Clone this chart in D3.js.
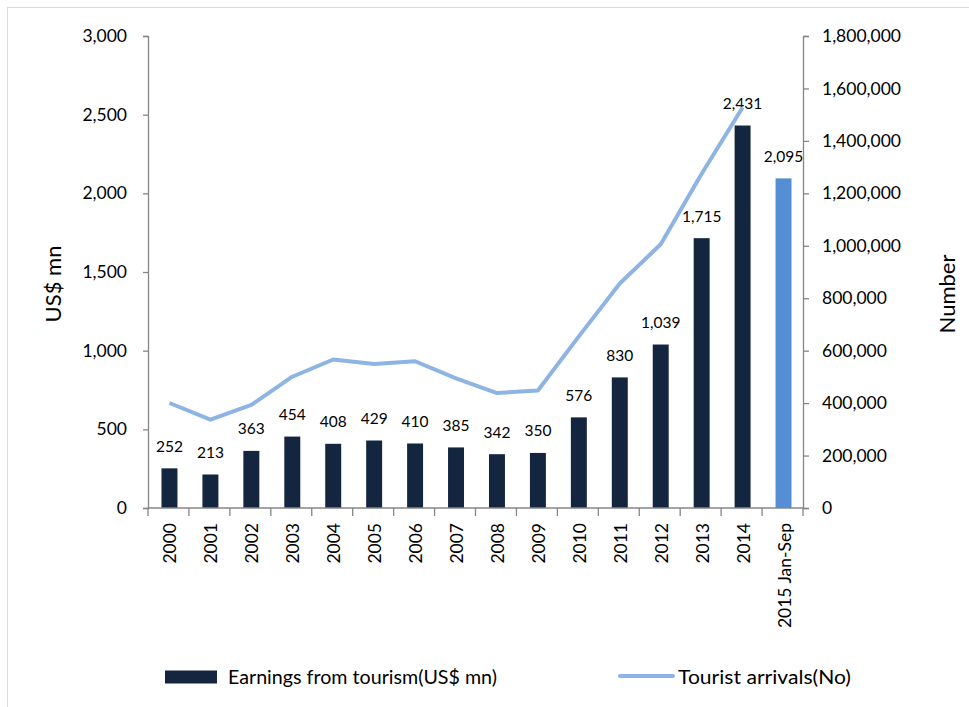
<!DOCTYPE html>
<html>
<head>
<meta charset="utf-8">
<script src="https://cdn.jsdelivr.net/npm/d3@7"></script>
<style>
  body { margin: 0; background: #fff; }
  svg text { font-family: Lato, "Open Sans", sans-serif; fill: #000; }
</style>
</head>
<body>
<div id="chart"></div>
<script>
// data
var years = ["2000", "2001", "2002", "2003", "2004", "2005", "2006", "2007",
             "2008", "2009", "2010", "2011", "2012", "2013", "2014", "2015 Jan-Sep"];
var earnings = [252, 213, 363, 454, 408, 429, 410, 385, 342, 350, 576, 830, 1039, 1715, 2431, 2095];
// arrivals only available up to 2014
var arrivals = [400414, 336794, 393171, 500642, 566202, 549308, 559603, 494008,
                438475, 447890, 654476, 855975, 1005605, 1274593, 1527153];
var leftTicks = [0, 500, 1000, 1500, 2000, 2500, 3000];
var rightTicks = [0, 200000, 400000, 600000, 800000, 1000000, 1200000, 1400000, 1600000, 1800000];

var W = 969, H = 707;
var plot = {left: 148, right: 803, top: 36, bottom: 508};

var svg = d3.select("#chart").append("svg")
    .attr("width", W)
    .attr("height", H);

// outer frame
svg.append("rect")
    .attr("x", 7.5).attr("y", 7.5)
    .attr("width", W).attr("height", H)
    .style("fill", "none")
    .style("stroke", "#d9d9d9");

var x = d3.scaleBand()
    .domain(years)
    .range([plot.left, plot.right])
    .paddingInner(0.61)
    .paddingOuter(0.305);

var xOuter = d3.scaleBand().domain(years).range([plot.left, plot.right]);

var yL = d3.scaleLinear().domain([0, 3000]).range([plot.bottom, plot.top]);
var yR = d3.scaleLinear().domain([0, 1800000]).range([plot.bottom, plot.top]);

var fmt = d3.format(",");
var axisColor = "#868686";

// left axis
var gL = svg.append("g")
    .attr("transform", "translate(" + plot.left + ",0)")
    .call(d3.axisLeft(yL).tickValues(leftTicks).tickFormat(fmt).tickSize(5).tickPadding(16));
// right axis
var gR = svg.append("g")
    .attr("transform", "translate(" + plot.right + ",0)")
    .call(d3.axisRight(yR).tickValues(rightTicks).tickFormat(fmt).tickSize(6).tickPadding(13));

[gL, gR].forEach(function(g) {
  g.select(".domain").attr("stroke", axisColor).attr("stroke-width", 1.3);
  g.selectAll(".tick line").attr("stroke", axisColor).attr("stroke-width", 1.3);
  g.selectAll(".tick text")
    .style("font-size", "17.5px")
    .style("font-family", "Lato, sans-serif")
    .attr("fill", "#000");
});

// bars
svg.append("g").selectAll("rect")
    .data(earnings)
    .enter().append("rect")
    .attr("x", function(d, i) { return x(years[i]) + 1; })
    .attr("y", function(d) { return yL(d); })
    .attr("width", x.bandwidth())
    .attr("height", function(d) { return plot.bottom - yL(d); })
    .style("fill", function(d, i) { return i == years.length - 1 ? "#558ed5" : "#13253f"; });

// bar labels
svg.append("g").selectAll("text")
    .data(earnings)
    .enter().append("text")
    .attr("x", function(d, i) { return x(years[i]) + 1 + x.bandwidth() / 2; })
    .attr("y", function(d) { return yL(d) - 16.5; })
    .attr("text-anchor", "middle")
    .style("font-size", "15.5px")
    .text(function(d) { return fmt(d); });

// arrivals line
var line = d3.line()
    .x(function(d, i) { return x(years[i]) + 1 + x.bandwidth() / 2; })
    .y(function(d) { return yR(d); });

svg.append("path")
    .datum(arrivals)
    .attr("d", line)
    .style("fill", "none")
    .style("stroke", "#8db4e2")
    .style("stroke-width", 4)
    .style("stroke-linejoin", "round");

// bottom axis (ticks between categories)
var gB = svg.append("g");
gB.append("line")
    .attr("x1", plot.left).attr("x2", plot.right)
    .attr("y1", plot.bottom).attr("y2", plot.bottom)
    .attr("stroke", axisColor).attr("stroke-width", 1.3);
var bounds = years.map(function(d) { return xOuter(d); }).concat([plot.right]);
gB.selectAll(".btick")
    .data(bounds)
    .enter().append("line")
    .attr("class", "btick")
    .attr("x1", function(d) { return d; }).attr("x2", function(d) { return d; })
    .attr("y1", plot.bottom).attr("y2", plot.bottom + 8)
    .attr("stroke", axisColor).attr("stroke-width", 1.3);
gB.selectAll(".blabel")
    .data(years)
    .enter().append("text")
    .attr("class", "blabel")
    .attr("transform", function(d) {
      return "translate(" + (xOuter(d) + xOuter.bandwidth() / 2 + 8) + "," + (plot.bottom + 15) + ") rotate(-90)";
    })
    .attr("text-anchor", "end")
    .style("font-size", "17.5px")
    .text(function(d) { return d; });

// axis titles
svg.append("text")
    .attr("transform", "translate(61,284) rotate(-90)")
    .attr("text-anchor", "middle")
    .style("font-size", "22px")
    .text("US$ mn");
svg.append("text")
    .attr("transform", "translate(955,294) rotate(-90)")
    .attr("text-anchor", "middle")
    .style("font-size", "22px")
    .text("Number");

// legend
var leg = svg.append("g");
leg.append("rect")
    .attr("x", 165).attr("y", 670.5)
    .attr("width", 52).attr("height", 13)
    .style("fill", "#13253f");
leg.append("text")
    .attr("x", 228).attr("y", 684)
    .attr("textLength", 269)
    .attr("lengthAdjust", "spacingAndGlyphs")
    .style("font-size", "19.5px")
    .text("Earnings from tourism(US$ mn)");
leg.append("line")
    .attr("x1", 620).attr("x2", 673)
    .attr("y1", 676).attr("y2", 676)
    .style("stroke", "#8db4e2")
    .style("stroke-width", 4)
    .style("stroke-linecap", "round");
leg.append("text")
    .attr("x", 678).attr("y", 684)
    .attr("textLength", 173)
    .attr("lengthAdjust", "spacingAndGlyphs")
    .style("font-size", "19.5px")
    .text("Tourist arrivals(No)");
</script>
</body>
</html>
